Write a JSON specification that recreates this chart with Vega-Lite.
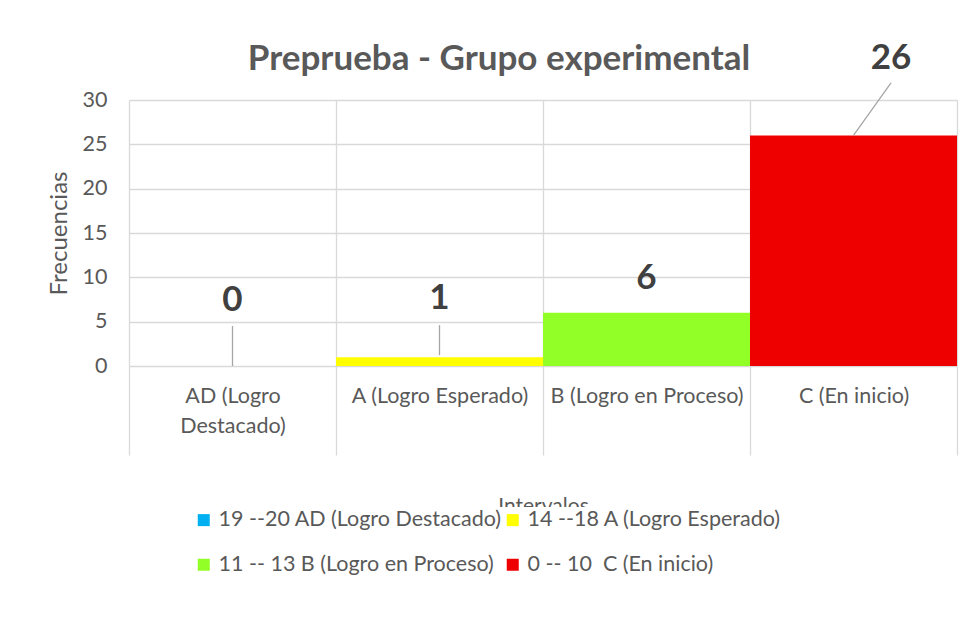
{
  "$schema": "https://vega.github.io/schema/vega-lite/v6.json",
  "width": 828,
  "height": 266,
  "autosize": {"type": "none"},
  "padding": {"left": 129, "top": 100, "right": 14, "bottom": 252},
  "background": "white",
  "config": {
    "font": "Lato",
    "view": {"stroke": null},
    "axis": {"labelFont": "Lato", "titleFont": "Lato", "labelColor": "#595959", "titleColor": "#595959", "gridColor": "#d9d9d9", "gridWidth": 1.3}
  },
  "title": {
    "text": "Preprueba - Grupo experimental",
    "fontSize": 35,
    "fontWeight": "bold",
    "color": "#595959",
    "font": "Lato",
    "anchor": "middle",
    "frame": "group",
    "dx": -44,
    "dy": 58,
    "offset": 22
  },
  "data": {
    "values": [
      {"cat": "AD (Logro Destacado)", "nivel": "19 --20 AD (Logro Destacado)", "freq": 0},
      {"cat": "A (Logro Esperado)", "nivel": "14 --18 A (Logro Esperado)", "freq": 1},
      {"cat": "B (Logro en Proceso)", "nivel": "11 -- 13 B (Logro en Proceso)", "freq": 6},
      {"cat": "C (En inicio)", "nivel": "0 -- 10\u00a0 C (En inicio)", "freq": 26}
    ]
  },
  "encoding": {
    "x": {
      "field": "cat",
      "type": "nominal",
      "sort": null,
      "scale": {"paddingInner": 0, "paddingOuter": 0},
      "axis": {
        "title": "Intervalos",
        "titleFontSize": 21,
        "titleFontWeight": "normal",
        "titleY": 129,
        "titleBaseline": "top",
        "labelAngle": 0,
        "labelFontSize": 21.5,
        "labelLineHeight": 30,
        "labelBaseline": "top",
        "labelPadding": -70,
        "labelExpr": "datum.label == 'AD (Logro Destacado)' ? ['AD (Logro', 'Destacado)'] : datum.label",
        "labelLimit": 300,
        "tickBand": "extent",
        "ticks": true,
        "tickSize": 89,
        "tickColor": "#d9d9d9",
        "tickWidth": 1.3,
        "domain": false,
        "grid": true
      }
    },
    "y": {
      "field": "freq",
      "type": "quantitative",
      "scale": {"domain": [0, 30]},
      "axis": {
        "title": "Frecuencias",
        "titleFontSize": 24,
        "titleFontWeight": "normal",
        "titleX": -70,
        "titleBaseline": "middle",
        "labelFontSize": 21.5,
        "labelPadding": 22,
        "values": [0, 5, 10, 15, 20, 25, 30],
        "ticks": false,
        "domain": false,
        "grid": true
      }
    }
  },
  "layer": [
    {
      "mark": {"type": "bar"},
      "encoding": {
        "color": {
          "field": "nivel",
          "type": "nominal",
          "sort": null,
          "scale": {
            "domain": ["19 --20 AD (Logro Destacado)", "14 --18 A (Logro Esperado)", "11 -- 13 B (Logro en Proceso)", "0 -- 10\u00a0 C (En inicio)"],
            "range": ["#00b0f0", "#ffff00", "#92ff26", "#ee0000"]
          },
          "legend": {
            "title": null,
            "orient": "none",
            "legendX": 62,
            "legendY": 407,
            "direction": "horizontal",
            "columns": 2,
            "columnPadding": 0,
            "rowPadding": 22,
            "symbolType": "square",
            "symbolSize": 144,
            "symbolStrokeWidth": 0,
            "labelFontSize": 21.5,
            "labelFont": "Lato",
            "labelColor": "#595959",
            "labelLimit": 400,
            "fillColor": "white",
            "padding": 2
          }
        }
      }
    },
    {
      "transform": [{"filter": "datum.freq == 0"}],
      "mark": {"type": "rule", "color": "#a6a6a6", "strokeWidth": 1.3, "y2Offset": -40},
      "encoding": {"y2": {"field": "freq"}}
    },
    {
      "transform": [{"filter": "datum.freq == 1"}],
      "mark": {"type": "rule", "color": "#a6a6a6", "strokeWidth": 1.3, "yOffset": -2, "y2Offset": -32},
      "encoding": {"y2": {"field": "freq"}}
    },
    {
      "transform": [{"filter": "datum.freq == 26"}],
      "mark": {"type": "rule", "color": "#a6a6a6", "strokeWidth": 1.3, "x2Offset": 37.5, "y2Offset": -52.5},
      "encoding": {"x2": {"field": "cat"}, "y2": {"field": "freq"}}
    },
    {
      "transform": [{"filter": "datum.freq == 0"}],
      "mark": {"type": "text", "fontSize": 35, "fontWeight": "bold", "color": "#404040", "baseline": "middle", "dy": -66},
      "encoding": {"text": {"field": "freq"}}
    },
    {
      "transform": [{"filter": "datum.freq == 1"}],
      "mark": {"type": "text", "fontSize": 35, "fontWeight": "bold", "color": "#404040", "baseline": "middle", "dy": -59},
      "encoding": {"text": {"field": "freq"}}
    },
    {
      "transform": [{"filter": "datum.freq == 6"}],
      "mark": {"type": "text", "fontSize": 35, "fontWeight": "bold", "color": "#404040", "baseline": "middle", "dy": -35},
      "encoding": {"text": {"field": "freq"}}
    },
    {
      "transform": [{"filter": "datum.freq == 26"}],
      "mark": {"type": "text", "fontSize": 35, "fontWeight": "bold", "color": "#404040", "baseline": "middle", "dy": -77, "dx": 37.5, "clip": false},
      "encoding": {"text": {"field": "freq"}}
    }
  ]
}
